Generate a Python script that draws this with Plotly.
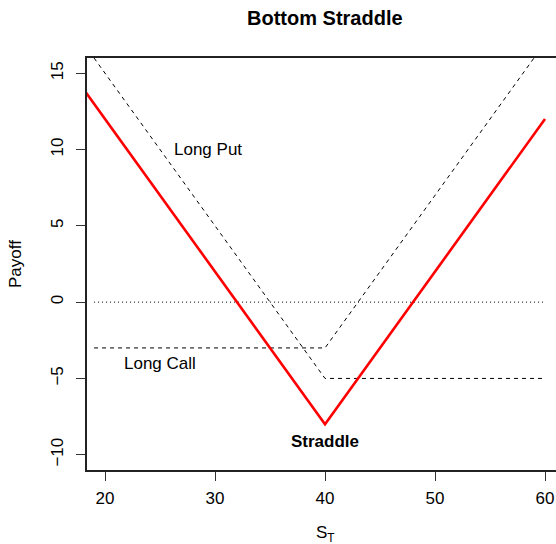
import plotly.graph_objects as go

# Payoff breakpoints (stock price at expiry S_T, payoff)
put_s = [19, 40, 60]
put_payoff = [16, -5, -5]
call_s = [19, 40, 60]
call_payoff = [-3, -3, 17]
straddle_s = [18, 40, 60]
straddle_payoff = [14, -8, 12]
zero_s = [19, 60]
zero_payoff = [0, 0]

x_ticks = [20, 30, 40, 50, 60]
y_ticks = [-10, -5, 0, 5, 10, 15]

FONT = "Liberation Sans, Arial, Helvetica, sans-serif"

fig = go.Figure()
fig.add_trace(go.Scatter(x=zero_s, y=zero_payoff, mode="lines",
                         line=dict(color="black", width=1, dash="1px,3px"),
                         showlegend=False, hoverinfo="skip"))
fig.add_trace(go.Scatter(x=put_s, y=put_payoff, mode="lines",
                         line=dict(color="black", width=1, dash="4px,4px"),
                         showlegend=False))
fig.add_trace(go.Scatter(x=call_s, y=call_payoff, mode="lines",
                         line=dict(color="black", width=1, dash="4px,4px"),
                         showlegend=False))
fig.add_trace(go.Scatter(x=straddle_s, y=straddle_payoff, mode="lines",
                         line=dict(color="#ff0000", width=2.6),
                         showlegend=False))


def label(text, x, y, xref="x", yref="y", size=17, angle=0):
    return dict(x=x, y=y, xref=xref, yref=yref, text=text, showarrow=False,
                xanchor="center", yanchor="middle", textangle=angle,
                font=dict(family=FONT, size=size, color="black"))


annotations = [
    label("Long Put", 29.4, 10),
    label("Long Call", 25, -4),
    label("<b>Straddle</b>", 40, -9.1),
    label("<b>Bottom Straddle</b>", 40, 1 + (58 - 18) / 412, yref="paper", size=20),
    label("S<sub>T</sub>", 40, -(534 - 470) / 412, yref="paper"),
    label("Payoff", (15 - 87) / 469, 0.5, xref="paper", yref="paper", angle=-90),
]

fig.update_layout(
    width=556, height=544,
    margin=dict(l=87, r=0, t=58, b=74, pad=0),
    plot_bgcolor="white", paper_bgcolor="white",
    font=dict(family=FONT, size=17, color="black"),
    annotations=annotations,
    xaxis=dict(range=[18.36, 61.0], tickvals=x_ticks, ticks="outside",
               ticklen=9, tickwidth=1, tickcolor="#333",
               showline=True, linecolor="#222", linewidth=1.5, mirror=True,
               showgrid=False, zeroline=False, ticklabelstandoff=3,
               tickfont=dict(family=FONT, size=17, color="black")),
    yaxis=dict(range=[-11, 16], tickvals=y_ticks, ticks="outside",
               ticklen=9, tickwidth=1, tickcolor="#333", tickangle=-90,
               showline=True, linecolor="#222", linewidth=1.5, mirror=False,
               showgrid=False, zeroline=False, ticklabelstandoff=6,
               tickfont=dict(family=FONT, size=17, color="black")),
)

fig.write_html("out.html")
